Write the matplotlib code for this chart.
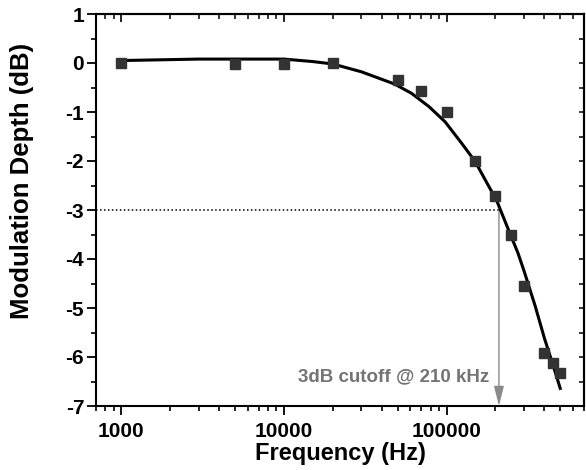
import matplotlib
matplotlib.use('Agg')
import matplotlib.pyplot as plt
from matplotlib.ticker import LogLocator, MultipleLocator, NullFormatter, FixedLocator

# measured points
freq = [1000, 5000, 10000, 20000, 50000, 70000, 100000, 150000,
        200000, 250000, 300000, 400000, 450000, 500000]
depth = [0.0, -0.02, -0.02, 0.0, -0.35, -0.57, -1.0, -2.01,
         -2.71, -3.52, -4.56, -5.92, -6.12, -6.33]

# fitted curve
fit_freq = [1000, 3000, 10000, 15000, 20000, 30000, 48000, 61000, 78000,
            98000, 124000, 150000, 180000, 203000, 240000, 275000, 300000,
            350000, 400000, 450000, 500000]
fit_depth = [0.05, 0.08, 0.08, 0.03, -0.02, -0.18, -0.43, -0.62, -0.89,
             -1.20, -1.64, -2.01, -2.49, -2.80, -3.40, -3.88, -4.25,
             -4.95, -5.62, -6.15, -6.64]

cutoff = 210000
cutoff_db = -3
xlim = (700, 700000)
ylim = (-7, 1)
label_txt = '3dB cutoff @ 210 kHz'

plt.rcParams['font.family'] = ['Liberation Sans', 'DejaVu Sans']
plt.rcParams['font.weight'] = 'bold'
plt.rcParams['axes.unicode_minus'] = False

fig = plt.figure(figsize=(5.86, 4.70), dpi=100)
ax = fig.add_axes([96/586, 1-406/470, 488/586, 392/470])

ax.plot(fit_freq, fit_depth, color='black', lw=2.2, zorder=3,
        solid_joinstyle='round')
ax.plot(freq, depth, 's', color='#333333', markersize=6.5, zorder=4)

ax.plot([xlim[0], cutoff], [cutoff_db, cutoff_db], color='black', lw=1.1,
        linestyle=(0, (1, 1.6)), zorder=2)
ax.annotate('', xy=(cutoff, ylim[0]), xytext=(cutoff, cutoff_db),
            arrowprops=dict(arrowstyle='-|>,head_length=0.6,head_width=0.15',
                            color='#8a8a8a', lw=1.0, mutation_scale=20,
                            shrinkA=0, shrinkB=0), zorder=2)
ax.text(183000, -6.4, label_txt, ha='right', va='center', color='#747474',
        fontsize=13.5, fontweight='bold')

ax.set_xscale('log')
ax.set_xlim(*xlim)
ax.set_ylim(*ylim)

ax.xaxis.set_major_locator(FixedLocator([1000, 10000, 100000]))
ax.xaxis.set_major_formatter(plt.FuncFormatter(lambda v, p: '%d' % v))
ax.xaxis.set_minor_locator(LogLocator(base=10, subs=range(2, 10), numticks=20))
ax.xaxis.set_minor_formatter(NullFormatter())
ax.yaxis.set_major_locator(MultipleLocator(1))
ax.yaxis.set_minor_locator(MultipleLocator(0.5))

ax.tick_params(which='major', direction='out', length=6.5, width=1.3,
               labelsize=15, pad=2)
ax.tick_params(which='minor', direction='out', length=3.5, width=1.2)
ax.tick_params(axis='x', which='major', pad=5)
for s in ax.spines.values():
    s.set_linewidth(1.5)

# inward ticks on top and right
top = ax.secondary_xaxis('top')
top.xaxis.set_major_locator(FixedLocator([1000, 10000, 100000]))
top.xaxis.set_minor_locator(LogLocator(base=10, subs=range(2, 10), numticks=20))
top.tick_params(which='major', direction='in', length=5.5, width=1.2,
                labeltop=False)
top.tick_params(which='minor', direction='in', length=3.5, width=1.1)
top.xaxis.set_major_formatter(NullFormatter())
top.xaxis.set_minor_formatter(NullFormatter())
top.spines['top'].set_linewidth(1.5)

right = ax.secondary_yaxis('right')
right.yaxis.set_major_locator(MultipleLocator(0.5))
right.tick_params(which='major', direction='in', length=3.5, width=1.1,
                  labelright=False)
right.yaxis.set_major_formatter(NullFormatter())
right.spines['right'].set_linewidth(1.5)

ax.set_xlabel('Frequency (Hz)', fontsize=17, fontweight='bold', labelpad=1)
ax.set_ylabel('Modulation Depth (dB)', fontsize=18.5, fontweight='bold')
ax.yaxis.set_label_coords(-0.128, 0.574)

fig.savefig('out.png', dpi=100)
